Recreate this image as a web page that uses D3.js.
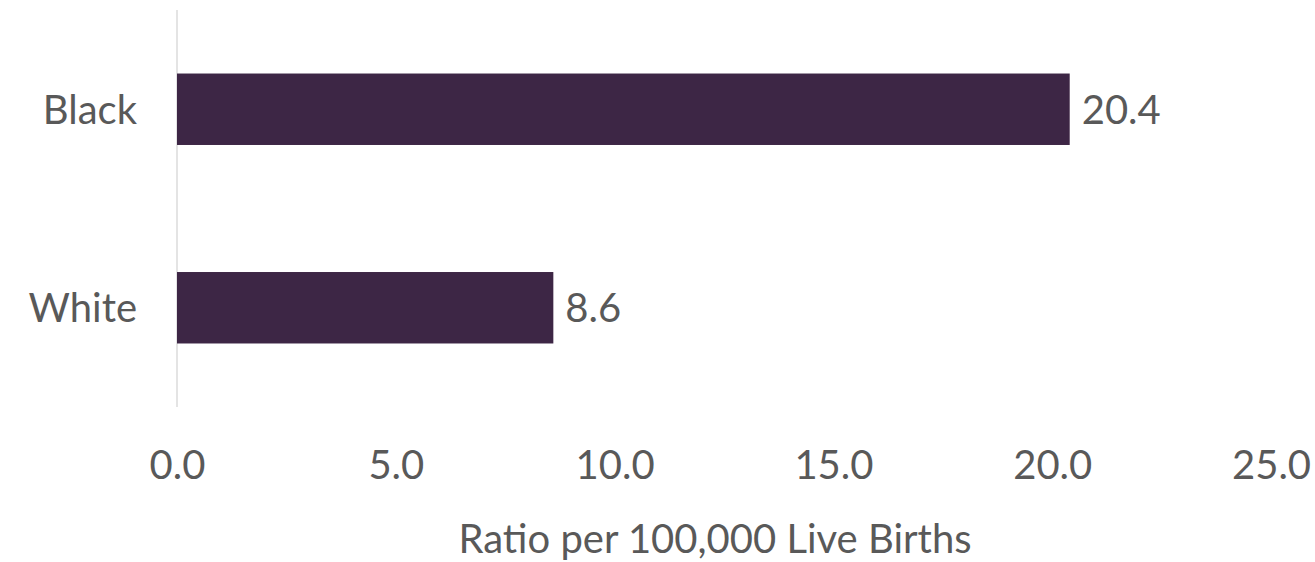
<!DOCTYPE html>
<html>
<head>
<meta charset="utf-8">
<script src="https://cdn.jsdelivr.net/npm/d3@7"></script>
<style>
  html, body { margin: 0; padding: 0; background: #fff; }
  svg text { font-family: Lato, "Open Sans", sans-serif; fill: #595959; }
</style>
</head>
<body>
<svg id="chart" width="1315" height="562"></svg>
<script>
const categories = ["Black", "White"];
const values = [20.4, 8.6];
const tickValues = [0, 5, 10, 15, 20, 25];
const axisTitle = "Ratio per 100,000 Live Births";

const svg = d3.select("#chart");
const plot = { left: 177, right: 1271, top: 10, bottom: 407 };

const x = d3.scaleLinear().domain([0, 25]).range([plot.left, plot.right]);
const y = d3.scaleBand()
  .domain(categories)
  .range([plot.top, plot.bottom])
  .paddingInner(0.64)
  .paddingOuter(0.32);

// vertical baseline at zero
svg.append("line")
  .attr("x1", x(0)).attr("x2", x(0))
  .attr("y1", plot.top).attr("y2", plot.bottom)
  .attr("stroke", "#e4e4e4").attr("stroke-width", 2);

// bars
svg.selectAll("rect.bar")
  .data(categories)
  .join("rect")
  .attr("class", "bar")
  .attr("x", x(0))
  .attr("y", d => y(d))
  .attr("width", (d, i) => x(values[i]) - x(0))
  .attr("height", y.bandwidth())
  .attr("fill", "#3d2645");

// value labels
svg.selectAll("text.value")
  .data(categories)
  .join("text")
  .attr("class", "value")
  .attr("x", (d, i) => x(values[i]) + 12)
  .attr("y", d => y(d) + y.bandwidth() / 2)
  .attr("dy", "0.36em")
  .style("font-size", "40px")
  .text((d, i) => values[i].toFixed(1));

// category labels
svg.selectAll("text.cat")
  .data(categories)
  .join("text")
  .attr("class", "cat")
  .attr("x", x(0) - 40)
  .attr("y", d => y(d) + y.bandwidth() / 2)
  .attr("dy", "0.36em")
  .attr("text-anchor", "end")
  .style("font-size", "40px")
  .text(d => d);

// x axis tick labels
const xAxis = d3.axisBottom(x)
  .tickValues(tickValues)
  .tickFormat(d3.format(".1f"))
  .tickSize(0)
  .tickPadding(0);

const gx = svg.append("g")
  .attr("transform", "translate(0,449)")
  .call(xAxis);
gx.select(".domain").remove();
gx.selectAll("text")
  .attr("dy", "0.75em")
  .style("font-size", "40px")
  .style("font-family", "Lato, 'Open Sans', sans-serif")
  .attr("fill", "#595959");

// axis title
svg.append("text")
  .attr("x", (x(0) + x(25)) / 2 - 9)
  .attr("y", 553)
  .attr("text-anchor", "middle")
  .style("font-size", "40px")
  .text(axisTitle);
</script>
</body>
</html>
